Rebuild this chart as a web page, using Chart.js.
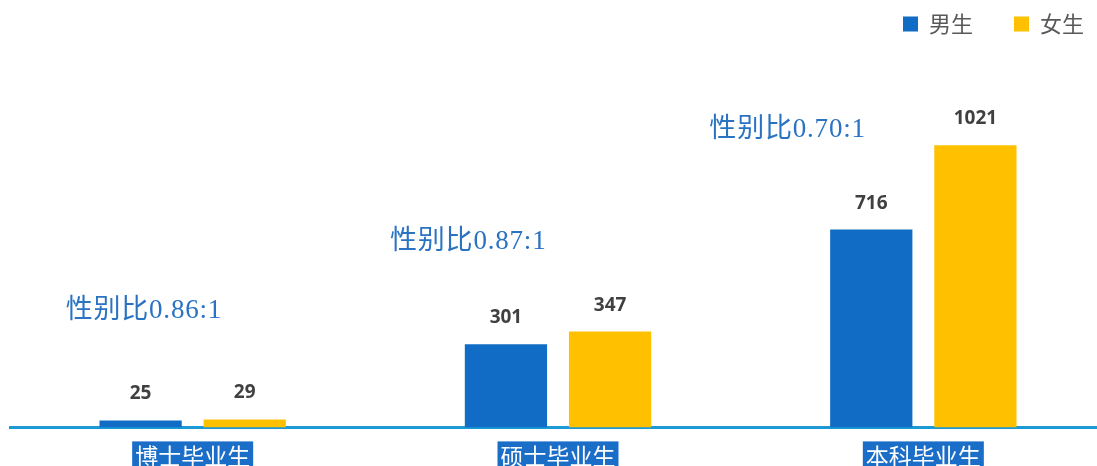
<!DOCTYPE html>
<html>
<head>
<meta charset="utf-8">
<script src="https://cdn.jsdelivr.net/npm/chart.js@4.4.1/dist/chart.umd.min.js"></script>
<style>
  body { margin: 0; background: #fff; }
  #frame { width: 1097px; height: 466px; overflow: hidden; position: relative; }
  #box { width: 1106px; height: 495px; position: absolute; left: 0; top: 0; }
</style>
</head>
<body>
<div id="frame"><div id="box"><canvas id="c"></canvas></div></div>
<script>
const categories = ['博士毕业生', '硕士毕业生', '本科毕业生'];
const seriesNames = ['男生', '女生'];
const maleCounts = [25, 301, 716];
const femaleCounts = [29, 347, 1021];
const ratioLabels = ['性别比0.86:1', '性别比0.87:1', '性别比0.70:1'];

const BLUE = '#116cc5';
const GOLD = '#ffc000';

// where the ratio notes sit: x from the category centre, y above the baseline
const notePos = [
  { dx: -127, up: 116 },
  { dx: -168, up: 185 },
  { dx: -214, up: 297 }
];

const labelsPlugin = {
  id: 'labelsPlugin',
  afterLayout(chart) {
    // legend: keep 41px gaps between items but sit closer to the corner
    const lg = chart.legend;
    lg.top -= 37; lg.bottom -= 37;
    lg.left += 19; lg.right += 19;
  },
  afterDatasetsDraw(chart) {
    const ctx = chart.ctx;
    ctx.save();
    ctx.font = 'bold 19px "Open Sans"';
    ctx.fillStyle = '#404040';
    ctx.textAlign = 'center';
    ctx.textBaseline = 'alphabetic';
    chart.data.datasets.forEach((ds, di) => {
      chart.getDatasetMeta(di).data.forEach((bar, i) => {
        ctx.fillText(String(ds.data[i]), bar.x, bar.y - 21);
      });
    });
    const xs = chart.scales.x;
    const bottom = chart.chartArea.bottom;
    ctx.font = '27px "Liberation Serif", "Noto Sans CJK SC"';
    ctx.letterSpacing = '0.8px';
    ctx.fillStyle = '#2a72c2';
    ctx.textAlign = 'left';
    ctx.textBaseline = 'middle';
    ratioLabels.forEach((t, i) => {
      const p = notePos[i];
      ctx.fillText(t, xs.getPixelForValue(i) + p.dx, bottom - p.up);
    });
    ctx.restore();
  }
};

new Chart(document.getElementById('c'), {
  type: 'bar',
  data: {
    labels: categories,
    datasets: [
      { label: seriesNames[0], data: maleCounts, backgroundColor: BLUE },
      { label: seriesNames[1], data: femaleCounts, backgroundColor: GOLD }
    ]
  },
  options: {
    responsive: true,
    maintainAspectRatio: false,
    animation: false,
    layout: { padding: { left: 10, right: 0, top: 9, bottom: 10 } },
    datasets: { bar: { categoryPercentage: 0.57, barPercentage: 0.79 } },
    plugins: {
      legend: {
        position: 'top',
        align: 'end',
        labels: {
          boxWidth: 15,
          boxHeight: 15,
          padding: 41,
          color: '#595959',
          font: { family: '"Noto Sans CJK SC"', size: 22 }
        }
      },
      tooltip: { enabled: false }
    },
    scales: {
      x: {
        grid: { display: false, drawTicks: false },
        border: { display: true, color: '#1b9ad6', width: 3 },
        ticks: {
          color: '#ffffff',
          padding: 15,
          font: { family: '"Noto Sans CJK SC"', size: 23 },
          showLabelBackdrop: true,
          backdropColor: '#1a6ec8',
          backdropPadding: { top: 1, bottom: 6, left: 3, right: 3 }
        }
      },
      y: {
        display: false,
        min: 0,
        max: 1250
      }
    }
  },
  plugins: [labelsPlugin]
});
</script>
</body>
</html>
